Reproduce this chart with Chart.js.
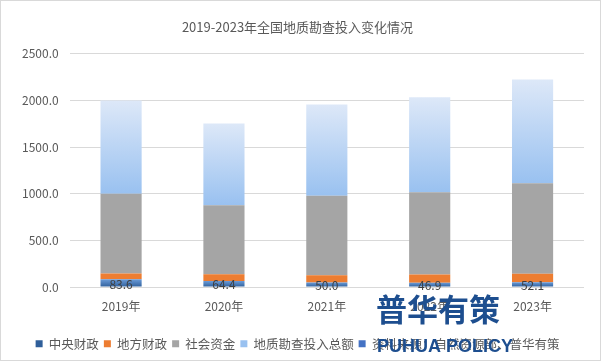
<!DOCTYPE html>
<html>
<head>
<meta charset="utf-8">
<script src="https://cdn.jsdelivr.net/npm/chart.js@4"></script>
<style>
  body { margin: 0; background: #fff; }
  #wrap { width: 601px; height: 361px; box-sizing: border-box; border: 1px solid #d9d9d9; position: relative; }
</style>
</head>
<body>
<div id="wrap"><canvas id="investChart"></canvas></div>
<script>
// data (亿元)
var years = ["2019年", "2020年", "2021年", "2022年", "2023年"];
var centralFin = [83.6, 64.4, 50.0, 46.9, 52.1];
var localFin = [63, 72, 78, 88, 90];
var socialFund = [852.4, 739.6, 849.0, 881.1, 968.9];
var totalInvest = [999, 876, 977, 1016, 1111];
var yTicks = [0, 500, 1000, 1500, 2000, 2500];

var FONT = '"Noto Sans CJK SC", sans-serif';
var TXT = '#595959';

// vertical gradient for one bar segment, built from the y scale
function segGradient(ctx, base, top, c1, c2, fallback) {
    var chart = ctx.chart;
    var y = chart.scales.y;
    if (!chart.chartArea || !y) return fallback;
    var i = ctx.dataIndex;
    if (i === undefined) return fallback;
    var g = chart.ctx.createLinearGradient(0, y.getPixelForValue(top[i]), 0, y.getPixelForValue(base[i]));
    g.addColorStop(0, c1);
    g.addColorStop(1, c2);
    return g;
}

var baseTotal = years.map(function (_, i) { return centralFin[i] + localFin[i] + socialFund[i]; });
var topTotal = years.map(function (_, i) { return baseTotal[i] + totalInvest[i]; });

var labelPlugin = {
    id: 'centralLabels',
    afterDatasetsDraw: function (chart) {
        var ctx = chart.ctx;
        var meta = chart.getDatasetMeta(0);
        ctx.save();
        ctx.font = '12px ' + FONT;
        ctx.fillStyle = '#404040';
        ctx.textAlign = 'center';
        ctx.textBaseline = 'middle';
        meta.data.forEach(function (bar, i) {
            var p = bar.getProps(['x', 'y', 'base'], true);
            ctx.fillText(centralFin[i].toFixed(1), p.x, (p.y + p.base) / 2 + 1);
        });
        ctx.restore();
    }
};

var watermarkPlugin = {
    id: 'watermark',
    afterDraw: function (chart) {
        var ctx = chart.ctx;
        ctx.save();
        ctx.fillStyle = '#1d4e8f';
        ctx.textAlign = 'left';
        ctx.textBaseline = 'middle';
        ctx.font = 'bold 31px ' + FONT;
        ctx.fillText('普华有策', 375, 308);
        ctx.font = 'bold 18px "Liberation Sans", sans-serif';
        ctx.fillText('PUHUA POLICY', 376, 346);
        ctx.restore();
    }
};

new Chart(document.getElementById('investChart'), {
    type: 'bar',
    data: {
        labels: years,
        datasets: [{
            label: '中央财政',
            data: centralFin,
            backgroundColor: function (ctx) {
                var zero = years.map(function () { return 0; });
                return segGradient(ctx, zero, centralFin, '#6a9bd8', '#2f5f9a', '#3f72b0');
            }
        }, {
            label: '地方财政',
            data: localFin,
            backgroundColor: '#ed7d31'
        }, {
            label: '社会资金',
            data: socialFund,
            backgroundColor: '#a5a5a5'
        }, {
            label: '地质勘查投入总额',
            data: totalInvest,
            backgroundColor: function (ctx) {
                return segGradient(ctx, baseTotal, topTotal, '#dde8f8', '#99c1f0', '#bcd5f5');
            }
        }, {
            label: '资料来源：自然资源部、普华有策',
            data: [],
            backgroundColor: '#4472c4'
        }]
    },
    options: {
        responsive: true,
        maintainAspectRatio: false,
        animation: false,
        layout: { padding: { left: 10, right: 16, top: 10, bottom: 0 } },
        datasets: { bar: { barPercentage: 0.4, categoryPercentage: 1 } },
        scales: {
            x: {
                stacked: true,
                grid: { display: false },
                border: { display: false },
                ticks: { color: TXT, font: { size: 12, family: FONT }, padding: 4 },
                afterFit: function (axis) { axis.height += 15; }
            },
            y: {
                stacked: true,
                min: 0,
                max: 2500,
                afterBuildTicks: function (axis) {
                    axis.ticks = yTicks.map(function (v) { return { value: v }; });
                },
                grid: { color: '#d9d9d9', drawTicks: false },
                border: { display: false },
                ticks: {
                    color: TXT,
                    font: { size: 12, family: FONT },
                    padding: 11,
                    callback: function (v) { return Number(v).toFixed(1); }
                }
            }
        },
        plugins: {
            title: {
                display: true,
                text: '2019-2023年全国地质勘查投入变化情况',
                color: TXT,
                font: { size: 13, family: FONT, weight: 'normal' },
                padding: { top: 8, bottom: 19 }
            },
            legend: {
                position: 'bottom',
                labels: {
                    color: TXT,
                    font: { size: 12.5, family: FONT },
                    boxWidth: 7,
                    boxHeight: 7,
                    padding: 5
                }
            },
            tooltip: { enabled: false }
        }
    },
    plugins: [labelPlugin, watermarkPlugin]
});
</script>
</body>
</html>
